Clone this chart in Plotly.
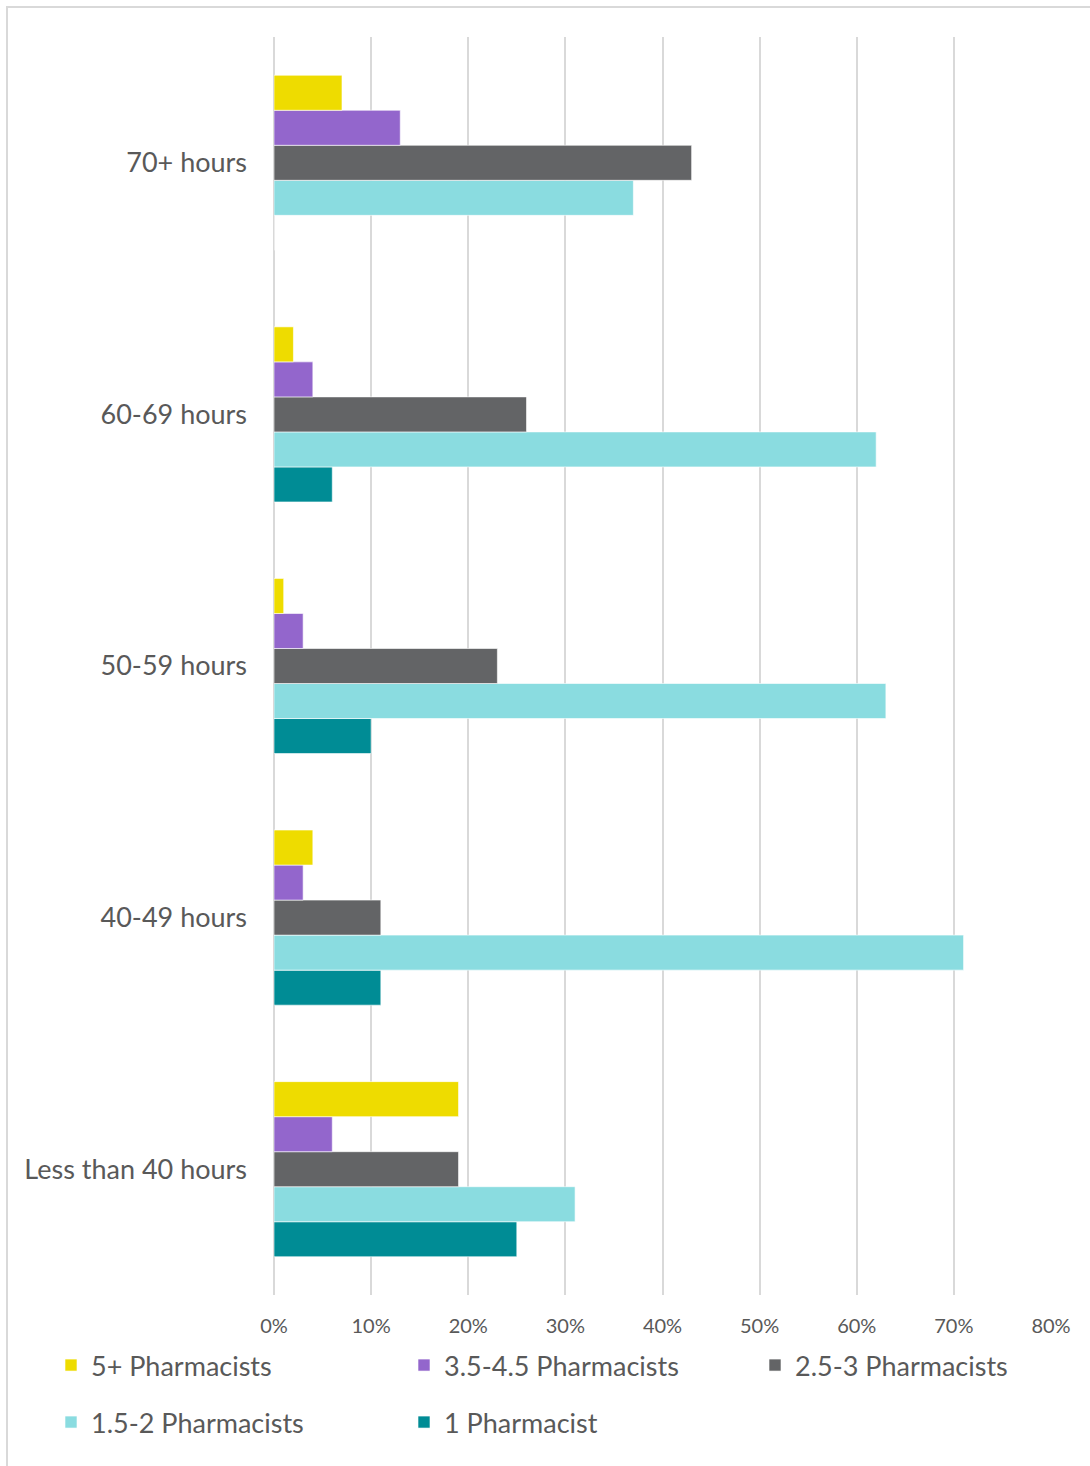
import plotly.graph_objects as go

categories = ["Less than 40 hours", "40-49 hours", "50-59 hours", "60-69 hours", "70+ hours"]

one_pharmacist = [0.25, 0.11, 0.10, 0.06, 0.00]
pharm_1_5_2 = [0.31, 0.71, 0.63, 0.62, 0.37]
pharm_2_5_3 = [0.19, 0.11, 0.23, 0.26, 0.43]
pharm_3_5_4_5 = [0.06, 0.03, 0.03, 0.04, 0.13]
pharm_5_plus = [0.19, 0.04, 0.01, 0.02, 0.07]

series_names = ["1 Pharmacist", "1.5-2 Pharmacists", "2.5-3 Pharmacists",
                "3.5-4.5 Pharmacists", "5+ Pharmacists"]
series_values = [one_pharmacist, pharm_1_5_2, pharm_2_5_3, pharm_3_5_4_5, pharm_5_plus]
series_colors = ["#008C95", "#8ADCE0", "#636466", "#9366CC", "#EEDC00"]
series_legend = ["legend2", "legend2", "legend3", "legend", "legend"]

FONT = "Lato"
TXT = "#595959"

fig = go.Figure()
for name, vals, col, lg in zip(series_names, series_values, series_colors, series_legend):
    fig.add_trace(go.Bar(
        y=categories, x=vals, name=name, orientation="h",
        marker=dict(color=col, line=dict(color="white", width=0.6)),
        legend=lg,
    ))

W, H = 1090, 1466
L, R, T, B = 274, 39, 37, 171
pw = W - L - R
ph = H - T - B

def px_x(p):
    return (p - L) / pw

def px_y(p):
    return 1 - (p - T) / ph

def leg(xp, yp, ew=308):
    return dict(
        orientation="h", traceorder="reversed",
        x=px_x(xp), xanchor="left", y=px_y(yp), yanchor="top",
        entrywidth=ew, entrywidthmode="pixels",
        font=dict(size=27, color=TXT, family=FONT),
        bgcolor="rgba(0,0,0,0)",
    )

fig.update_layout(
    width=W, height=H,
    margin=dict(l=L, r=R, t=T, b=B, autoexpand=False),
    paper_bgcolor="white", plot_bgcolor="white",
    barmode="group", bargap=0.304, bargroupgap=0,
    font=dict(family=FONT, color=TXT),
    xaxis=dict(
        range=[0, 0.8], dtick=0.1, tickformat=".0%",
        showgrid=True, gridcolor="#d9d9d9", gridwidth=2,
        zeroline=True, zerolinecolor="#d9d9d9", zerolinewidth=2,
        showline=False, ticks="", ticklabelstandoff=17,
        tickfont=dict(size=20, color=TXT, family=FONT),
        fixedrange=True,
    ),
    yaxis=dict(
        showgrid=False, zeroline=False, showline=False, ticks="",
        ticklabelstandoff=26,
        tickfont=dict(size=27, color=TXT, family=FONT),
        fixedrange=True,
    ),
    legend=leg(51, 1341),
    legend3=leg(755, 1341, 220),
    legend2=leg(51, 1398),
    shapes=[dict(
        type="rect", xref="paper", yref="paper",
        x0=px_x(7), x1=px_x(1096), y0=px_y(1472), y1=px_y(7),
        line=dict(color="#d9d9d9", width=2), fillcolor="rgba(0,0,0,0)",
        layer="below",
    )],
)

fig.write_html("out.html")
